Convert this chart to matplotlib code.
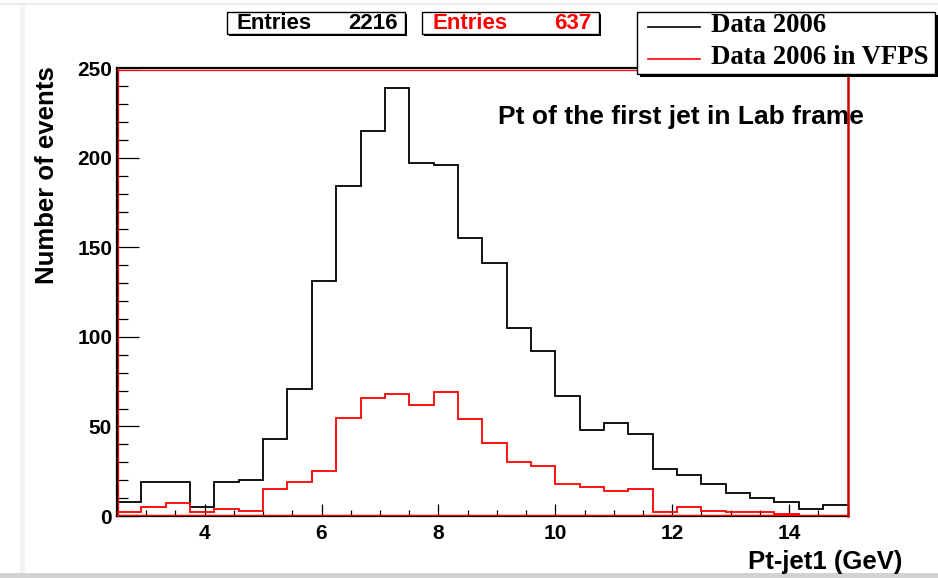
import numpy as np
import matplotlib
matplotlib.use("Agg")
import matplotlib.pyplot as plt
from matplotlib.patches import Rectangle
from matplotlib.lines import Line2D
from matplotlib.ticker import MultipleLocator
import matplotlib.transforms as mtransforms

# Histogram binning: 30 bins between 2.5 and 15 GeV
x_min, x_max, n_bins = 2.5, 15.0, 30

# Bin contents (events per bin)
counts_all = [8, 19, 19, 5, 19, 20, 43, 71, 131, 184, 215, 239, 197, 196, 155,
              141, 105, 92, 67, 48, 52, 46, 26, 23, 18, 13, 10, 8, 4, 6]
counts_vfps = [2, 5, 7, 2, 4, 3, 15, 19, 25, 55, 66, 68, 62, 69, 54,
               41, 30, 28, 18, 16, 14, 15, 2, 5, 3, 2, 2, 1, 0, 0]

entries_all = 2216
entries_vfps = 637
series_labels = ["Data 2006", "Data 2006 in VFPS"]
series_colors = ["black", "#ff0000"]

x_ticks = [4, 6, 8, 10, 12, 14]
y_ticks = [0, 50, 100, 150, 200, 250]

W, H = 938, 578
fig = plt.figure(figsize=(W / 100, H / 100), dpi=100)
fig.patch.set_facecolor("white")


def fx(px):
    return px / W


def fy(py):
    return 1 - py / H


# page-like border strips around the canvas
fig.patches.append(Rectangle((0, fy(578)), 1, (578 - 573) / H, transform=fig.transFigure,
                             facecolor="#d2d2d2", edgecolor="none", zorder=-5))
fig.patches.append(Rectangle((0, fy(5)), 1, 2 / H, transform=fig.transFigure,
                             facecolor="#ececec", edgecolor="none", zorder=-5))
fig.patches.append(Rectangle((fx(20), fy(573)), 5 / W, 568 / H, transform=fig.transFigure,
                             facecolor="#f3f3f3", edgecolor="none", zorder=-5))

ax_l, ax_r, ax_t, ax_b = 117, 847.5, 68.3, 516
ax = fig.add_axes([fx(ax_l), fy(ax_b), (ax_r - ax_l) / W, (ax_b - ax_t) / H])
ax.set_facecolor("none")

edges = np.linspace(x_min, x_max, n_bins + 1)
ax.stairs(counts_all, edges, baseline=None, color=series_colors[0], lw=1.3, zorder=3)
ax.stairs(counts_vfps, edges, baseline=None, color=series_colors[1], lw=1.3, zorder=3)

ax.set_xlim(x_min, x_max)
ax.set_ylim(0, 250)

ax.xaxis.set_major_locator(MultipleLocator(2))
ax.xaxis.set_minor_locator(MultipleLocator(0.5))
ax.yaxis.set_major_locator(MultipleLocator(50))
ax.yaxis.set_minor_locator(MultipleLocator(10))
ax.set_xticks(x_ticks)
ax.set_yticks(y_ticks)
ax.set_xticklabels([str(v) for v in x_ticks])
ax.set_yticklabels([str(v) for v in y_ticks])

ax.tick_params(axis="x", which="major", direction="in", length=8.8, width=0.9,
               pad=6, labelsize=15)
ax.tick_params(axis="x", which="minor", direction="in", length=4.6, width=0.9)
ax.tick_params(axis="y", which="major", direction="in", length=15.6, width=0.9,
               pad=3.5, labelsize=15)
ax.tick_params(axis="y", which="minor", direction="in", length=8.2, width=0.9)
for lab in ax.get_xticklabels() + ax.get_yticklabels():
    lab.set_fontfamily("Liberation Sans")
    lab.set_fontweight("bold")

for side in ("left", "bottom", "top"):
    ax.spines[side].set_color("black")
    ax.spines[side].set_linewidth(1.6)
ax.spines["right"].set_color("#cc0000")
ax.spines["right"].set_linewidth(1.8)
ax.spines["right"].set_zorder(6)

# thin red inner frame from the second histogram
off = 1.2 / 100
red_kw = dict(color="#ff0000", lw=0.9, clip_on=False, zorder=5)
ax.add_line(Line2D([0, 0], [0, 1], transform=ax.transAxes +
                   mtransforms.ScaledTranslation(off, 0, fig.dpi_scale_trans), **red_kw))
ax.add_line(Line2D([0, 1], [1, 1], transform=ax.transAxes +
                   mtransforms.ScaledTranslation(0, -off, fig.dpi_scale_trans), **red_kw))
ax.add_line(Line2D([0, 1], [0, 0], transform=ax.transAxes +
                   mtransforms.ScaledTranslation(0, off, fig.dpi_scale_trans), **red_kw))

# in-frame title (the right frame line is drawn over its tail)
ax.text((498 - ax_l) / (ax_r - ax_l), 1 - (117 - ax_t) / (ax_b - ax_t),
        "Pt of the first jet in Lab frame", transform=ax.transAxes,
        ha="left", va="center", fontsize=19, fontweight="bold",
        family="Liberation Sans", clip_on=False, zorder=1)

# axis titles
fig.text(fx(47), fy(175), "Number of events", rotation=90, ha="center", va="center",
         fontsize=18.5, fontweight="bold", family="Liberation Sans")
fig.text(fx(902), fy(562), "Pt-jet1 (GeV)", ha="right", va="center",
         fontsize=18.5, fontweight="bold", family="Liberation Sans")


def shadow_box(x0, y0, x1, y1, sh=3):
    fig.patches.append(Rectangle((fx(x0 + sh), fy(y1 + sh)), (x1 - x0) / W, (y1 - y0) / H,
                                 transform=fig.transFigure, facecolor="black",
                                 edgecolor="none", zorder=8))
    fig.patches.append(Rectangle((fx(x0), fy(y1)), (x1 - x0) / W, (y1 - y0) / H,
                                 transform=fig.transFigure, facecolor="white",
                                 edgecolor="black", lw=1.0, zorder=9))


# statistics boxes
stat_boxes = [
    ((227, 12, 405, 34), 237, 398, entries_all, series_colors[0]),
    ((422, 12, 599, 34), 432, 591, entries_vfps, series_colors[1]),
]
for (x0, y0, x1, y1), tx_l, tx_r, n, col in stat_boxes:
    shadow_box(x0, y0, x1, y1, sh=2)
    yc = (y0 + y1) / 2 + 0.5
    fig.text(fx(tx_l), fy(yc), "Entries", ha="left", va="center", fontsize=16,
             fontweight="bold", family="Liberation Sans", color=col, zorder=10)
    fig.text(fx(tx_r), fy(yc), str(n), ha="right", va="center", fontsize=16,
             fontweight="bold", family="Liberation Sans", color=col, zorder=10)

# legend
shadow_box(637, 12, 935, 74, sh=3)
for yl, lab, col in zip([27, 59], series_labels, series_colors):
    fig.add_artist(Line2D([fx(648), fx(700)], [fy(yl), fy(yl)], transform=fig.transFigure,
                          color=col, lw=1.2, zorder=10))
    fig.text(fx(711), fy(yl - 1), lab, ha="left", va="center", fontsize=19.3,
             fontweight="bold", family="Liberation Serif", zorder=10)

fig.savefig("out.png", dpi=100, facecolor="white")
